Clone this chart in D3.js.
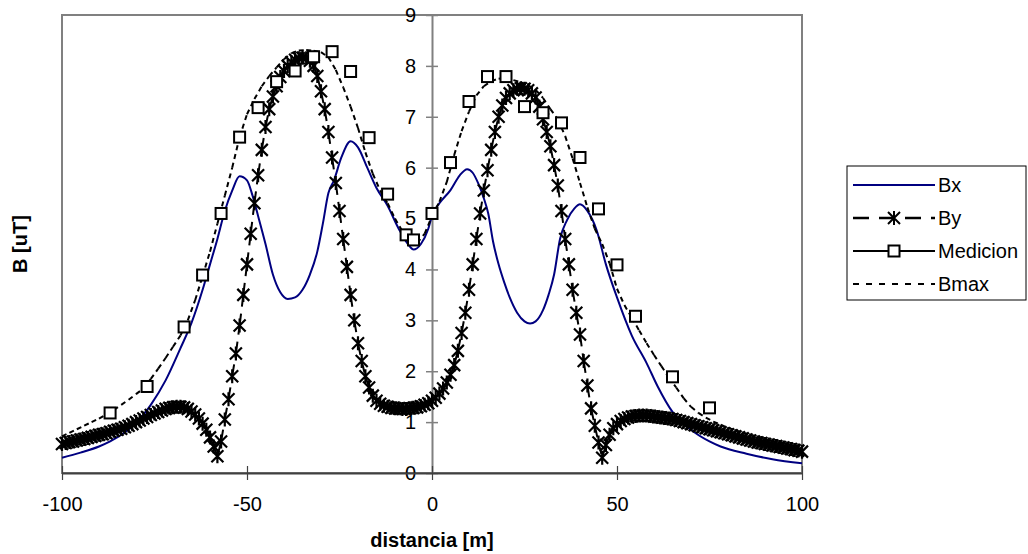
<!DOCTYPE html>
<html>
<head>
<meta charset="utf-8">
<script src="https://cdn.jsdelivr.net/npm/d3@7"></script>
<style>
  body { margin: 0; background: #fff; }
  svg { font-family: "Liberation Sans", Arial, sans-serif; }
</style>
</head>
<body>
<svg id="chart" width="1028" height="554"></svg>
<script>
// Bx (calculated)
var bxDist = [-100, -95, -90, -87, -83, -80, -76, -72, -68, -65, -62, -60, -58, -56, -54, -52, -50, -48.5, -47, -45, -43, -41, -39, -37, -35, -33, -31, -29.5, -28, -26.5, -24.5, -22, -20, -17.5, -15, -12, -9, -6, -5, -3, -1, 0, 2, 5, 7.5, 9.5, 11, 12.5, 14, 15.2, 16.5, 18, 19.5, 21, 23, 25, 26.5, 28, 30, 31.5, 33, 34.6, 36.5, 38.5, 40, 42, 44.5, 47, 50, 54, 58, 61, 65, 70, 75, 78, 85, 92, 100];
var bxVal = [0.30, 0.40, 0.52, 0.62, 0.80, 0.98, 1.34, 1.82, 2.45, 2.95, 3.60, 4.10, 4.60, 5.15, 5.55, 5.83, 5.75, 5.45, 5.05, 4.50, 3.90, 3.55, 3.42, 3.45, 3.60, 3.90, 4.35, 4.90, 5.50, 5.75, 6.20, 6.52, 6.40, 6.00, 5.60, 5.25, 4.80, 4.45, 4.39, 4.50, 4.80, 5.05, 5.30, 5.56, 5.85, 5.97, 5.90, 5.69, 5.40, 5.10, 4.55, 4.10, 3.75, 3.45, 3.15, 2.98, 2.94, 2.98, 3.20, 3.50, 3.90, 4.60, 4.97, 5.20, 5.28, 5.15, 4.77, 4.10, 3.45, 2.70, 2.16, 1.70, 1.20, 0.85, 0.62, 0.52, 0.38, 0.27, 0.19];

// By (calculated), every metre from -100 to 100
var byDist = d3.range(-100, 101, 1);
var byVal = [0.57, 0.59, 0.61, 0.62, 0.64, 0.66, 0.67, 0.69, 0.71, 0.73, 0.75,
  0.76, 0.78, 0.81, 0.83, 0.85, 0.87, 0.90, 0.93, 0.96, 1.00,
  1.03, 1.07, 1.10, 1.14, 1.17, 1.20, 1.23, 1.26, 1.28, 1.29,
  1.30, 1.30, 1.29, 1.26, 1.21, 1.15, 1.07, 0.97, 0.85, 0.70,
  0.52, 0.33, 0.62, 1.05, 1.45, 1.90, 2.35, 2.90, 3.50, 4.10,
  4.70, 5.30, 5.85, 6.35, 6.80, 7.15, 7.40, 7.60, 7.78, 7.90,
  8.00, 8.07, 8.12, 8.15, 8.16, 8.15, 8.10, 8.00, 7.80, 7.50,
  7.15, 6.70, 6.20, 5.70, 5.15, 4.60, 4.05, 3.50, 3.00, 2.55,
  2.20, 1.90, 1.68, 1.52, 1.42, 1.36, 1.32, 1.30, 1.28, 1.27,
  1.27, 1.26, 1.26, 1.27, 1.28, 1.29, 1.31, 1.34, 1.37, 1.42,
  1.48, 1.56, 1.66, 1.78, 1.93, 2.12, 2.40, 2.75, 3.15, 3.60,
  4.10, 4.60, 5.10, 5.55, 5.95, 6.35, 6.70, 7.00, 7.22, 7.37,
  7.46, 7.52, 7.55, 7.56, 7.55, 7.52, 7.46, 7.38, 7.20, 6.95,
  6.70, 6.42, 6.05, 5.65, 5.15, 4.60, 4.10, 3.60, 3.15, 2.72,
  2.20, 1.72, 1.27, 0.93, 0.60, 0.30, 0.55, 0.75, 0.88, 0.96,
  1.02, 1.06, 1.09, 1.11, 1.12, 1.13, 1.13, 1.13, 1.12, 1.11,
  1.10, 1.09, 1.08, 1.07, 1.06, 1.04, 1.02, 1.00, 0.98, 0.96,
  0.94, 0.92, 0.90, 0.88, 0.86, 0.84, 0.82, 0.80, 0.78, 0.76,
  0.74, 0.72, 0.70, 0.68, 0.66, 0.64, 0.62, 0.60, 0.59, 0.57,
  0.56, 0.54, 0.53, 0.51, 0.50, 0.48, 0.47, 0.45, 0.44, 0.42];

// Bmax (calculated), every 2 m
var bmaxDist = d3.range(-100, 101, 2);
var bmaxVal = [0.72, 0.79, 0.86, 0.93, 1.00, 1.07, 1.15, 1.24, 1.34, 1.44,
  1.55, 1.66, 1.85, 2.05, 2.26, 2.48, 2.70, 3.00, 3.40, 3.87,
  4.35, 4.90, 5.45, 6.00, 6.60, 7.05, 7.35, 7.60, 7.80, 7.97,
  8.13, 8.25, 8.30, 8.31, 8.30, 8.27, 8.17, 7.92, 7.58, 7.20,
  6.78, 6.30, 5.88, 5.55, 5.30, 5.00, 4.75, 4.55, 4.52, 4.70,
  5.05, 5.33, 5.72, 6.25, 6.72, 7.10, 7.42, 7.60, 7.70, 7.75,
  7.75, 7.72, 7.68, 7.62, 7.53, 7.37, 7.15, 6.95, 6.62, 6.18,
  5.70, 5.22, 4.80, 4.50, 4.12, 3.62, 3.30, 3.05, 2.80, 2.55,
  2.32, 2.10, 1.88, 1.68, 1.47, 1.30, 1.18, 1.09, 1.01, 0.95,
  0.89, 0.84, 0.79, 0.74, 0.70, 0.66, 0.63, 0.60, 0.57, 0.54,
  0.51];

// Medicion (measured)
var medDist = [-87, -77, -67, -62, -57, -52, -47, -42, -37, -32, -27, -22, -17, -12, -7, -5, 0, 5, 10, 15, 20, 25, 30, 35, 40, 45, 50, 55, 65, 75];
var medVal = [1.18, 1.70, 2.87, 3.89, 5.10, 6.60, 7.18, 7.69, 7.90, 8.18, 8.28, 7.89, 6.59, 5.48, 4.68, 4.58, 5.10, 6.10, 7.30, 7.79, 7.79, 7.20, 7.08, 6.88, 6.20, 5.19, 4.09, 3.08, 1.89, 1.28];

var xTicks = [-100, -50, 0, 50, 100];
var yTicks = [0, 1, 2, 3, 4, 5, 6, 7, 8, 9];
var legendNames = ["Bx", "By", "Medicion", "Bmax"];

var plot = {left: 62, right: 802, top: 15, bottom: 473};

var x = d3.scaleLinear().domain([-100, 100]).range([plot.left, plot.right]);
var y = d3.scaleLinear().domain([0, 9]).range([plot.bottom, plot.top]);

var svg = d3.select("#chart");

svg.append("rect")
  .attr("x", plot.left).attr("y", plot.top)
  .attr("width", plot.right - plot.left).attr("height", plot.bottom - plot.top)
  .attr("fill", "none").attr("stroke", "#808080").attr("stroke-width", 2);

// axes
var yAxis = svg.append("g")
  .attr("transform", `translate(${x(0)},0)`)
  .call(d3.axisLeft(y).tickValues(yTicks).tickFormat(d => String(d)).tickSize(6).tickSizeOuter(0).tickPadding(10));
yAxis.selectAll(".tick line").attr("x1", 6).attr("x2", -6).attr("stroke", "#808080").attr("stroke-width", 1.5);
yAxis.select(".domain").attr("stroke", "#808080").attr("stroke-width", 2);
yAxis.selectAll("text").attr("font-size", 20).attr("fill", "#000")
  .style("font-family", "'Liberation Sans', Arial, sans-serif");

var xAxis = svg.append("g")
  .attr("transform", `translate(0,${plot.bottom})`)
  .call(d3.axisBottom(x).tickValues(xTicks).tickFormat(d => String(d)).tickSize(7).tickSizeOuter(0).tickPadding(17));
xAxis.selectAll(".tick line").attr("y1", -7).attr("y2", 7).attr("stroke", "#404040").attr("stroke-width", 1.2);
xAxis.select(".domain").attr("stroke", "#404040").attr("stroke-width", 2);
xAxis.selectAll("text").attr("font-size", 20).attr("fill", "#000")
  .style("font-family", "'Liberation Sans', Arial, sans-serif");

svg.append("text")
  .attr("x", x(0)).attr("y", 547)
  .attr("text-anchor", "middle").attr("font-size", 20).attr("font-weight", "bold")
  .text("distancia [m]");

svg.append("text")
  .attr("transform", "translate(27,244) rotate(-90)")
  .attr("text-anchor", "middle").attr("font-size", 20).attr("font-weight", "bold")
  .text("B [uT]");

svg.append("clipPath").attr("id", "clip")
  .append("rect").attr("x", plot.left - 8).attr("y", plot.top - 8)
  .attr("width", plot.right - plot.left + 16).attr("height", plot.bottom - plot.top + 8);

var g = svg.append("g").attr("clip-path", "url(#clip)");

var line = d3.line().x(d => x(d[0])).y(d => y(d[1]));

// Bx
g.append("path")
  .datum(d3.zip(bxDist, bxVal))
  .attr("d", line.curve(d3.curveMonotoneX))
  .attr("fill", "none").attr("stroke", "#000080").attr("stroke-width", 2);
line.curve(d3.curveLinear);

// dashed series drawn segment by segment, dash restarting on every segment
var segs = (dist, val, dash, w) => {
  g.append("g").selectAll("path")
    .data(d3.pairs(d3.zip(dist, val)))
    .join("path")
    .attr("d", d => line(d))
    .attr("fill", "none").attr("stroke", "#000")
    .attr("stroke-width", w).attr("stroke-dasharray", dash);
};

var star = "M0,-7V7M-6,-6L6,6M-6,6L6,-6";

// By
segs(byDist, byVal, "12,7", 2);
g.append("g").selectAll("path")
  .data(d3.zip(byDist, byVal))
  .join("path")
  .attr("transform", d => `translate(${x(d[0])},${y(d[1])})`)
  .attr("d", star)
  .attr("fill", "none").attr("stroke", "#000").attr("stroke-width", 2.2);

// Bmax
segs(bmaxDist, bmaxVal, "5,4", 2);

// Medicion
g.append("g").selectAll("rect")
  .data(d3.zip(medDist, medVal))
  .join("rect")
  .attr("x", d => x(d[0]) - 5.5).attr("y", d => y(d[1]) - 5.5)
  .attr("width", 11).attr("height", 11)
  .attr("fill", "#fff").attr("stroke", "#000").attr("stroke-width", 2);

// legend
var lg = svg.append("g");
lg.append("rect")
  .attr("x", 847).attr("y", 166).attr("width", 179).attr("height", 134)
  .attr("fill", "#fff").attr("stroke", "#000").attr("stroke-width", 1);

var rowY = d3.scalePoint().domain(legendNames).range([185, 284]);
var x1 = 853, x2 = 935, xm = (x1 + x2) / 2;

lg.selectAll("text")
  .data(legendNames)
  .join("text")
  .attr("x", 938).attr("y", d => rowY(d)).attr("dy", "0.36em")
  .attr("font-size", 20).text(d => d);

lg.append("line").attr("x1", x1).attr("x2", x2).attr("y1", rowY("Bx")).attr("y2", rowY("Bx"))
  .attr("stroke", "#000080").attr("stroke-width", 2);
lg.append("line").attr("x1", x1).attr("x2", x2).attr("y1", rowY("By")).attr("y2", rowY("By"))
  .attr("stroke", "#000").attr("stroke-width", 2.5).attr("stroke-dasharray", "16,10");
lg.append("path").attr("transform", `translate(${xm},${rowY("By")})`).attr("d", star)
  .attr("fill", "none").attr("stroke", "#000").attr("stroke-width", 2);
lg.append("line").attr("x1", x1).attr("x2", x2).attr("y1", rowY("Medicion")).attr("y2", rowY("Medicion"))
  .attr("stroke", "#000").attr("stroke-width", 2);
lg.append("rect").attr("x", xm - 5.5).attr("y", rowY("Medicion") - 5.5).attr("width", 11).attr("height", 11)
  .attr("fill", "#fff").attr("stroke", "#000").attr("stroke-width", 2);
lg.append("line").attr("x1", x1).attr("x2", x2).attr("y1", rowY("Bmax")).attr("y2", rowY("Bmax"))
  .attr("stroke", "#000").attr("stroke-width", 2).attr("stroke-dasharray", "6,7");
</script>
</body>
</html>
